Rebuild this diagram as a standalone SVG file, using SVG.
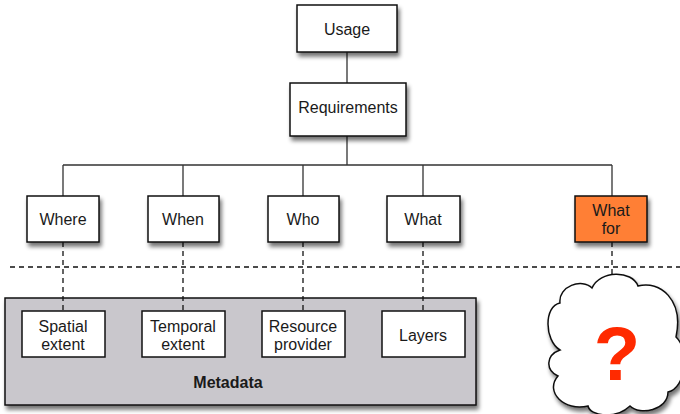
<svg xmlns="http://www.w3.org/2000/svg" width="680" height="414" viewBox="0 0 680 414">
  <defs>
    <filter id="shadow" x="-20%" y="-20%" width="150%" height="160%">
      <feGaussianBlur in="SourceAlpha" stdDeviation="2.2"/>
      <feOffset dx="2" dy="4" result="blur"/>
      <feComponentTransfer><feFuncA type="linear" slope="0.55"/></feComponentTransfer>
      <feMerge><feMergeNode/><feMergeNode in="SourceGraphic"/></feMerge>
    </filter>
  </defs>
  <style>
    .box { fill: #ffffff; stroke: #111111; stroke-width: 1.5; }
    .hot { fill: #ff7f35; }
    .meta { fill: #c9c7cc; stroke: #111111; stroke-width: 1.5; }
    .lbl { font-family: "Liberation Sans", Arial, sans-serif; font-size: 16px; fill: #1a1a1a; text-anchor: middle; }
    .bold { font-weight: bold; }
    .tree { fill: none; stroke: #333333; stroke-width: 1.3; }
    .dash { fill: none; stroke: #111111; stroke-width: 1.3; stroke-dasharray: 5 4; }
  </style>

  <!-- metadata container -->
  <g id="metadata">
    <rect class="meta" x="5" y="298" width="471" height="107" filter="url(#shadow)"/>
    <text class="lbl bold" x="228" y="388">Metadata</text>
  </g>

  <!-- connectors -->
  <g id="connectors">
    <path class="tree" d="M347,52 V83 M347,136 V165 M63,165 H612 M63,165 V196 M183,165 V196 M303,165 V196 M423,165 V196 M612,165 V196"/>
    <path class="dash" d="M10,267 H680"/>
    <path class="dash" d="M63,242 V311 M183,242 V311 M303,242 V311 M423,242 V311 M612,242 V277"/>
  </g>

  <g id="usage">
    <rect class="box" x="297" y="5" width="100" height="47" filter="url(#shadow)"/>
    <text class="lbl" x="347" y="35">Usage</text>
  </g>
  <g id="requirements">
    <rect class="box" x="290" y="83" width="116" height="53" filter="url(#shadow)"/>
    <text class="lbl" x="348" y="113">Requirements</text>
  </g>

  <g id="where">
    <rect class="box" x="27" y="196" width="72" height="46" filter="url(#shadow)"/>
    <text class="lbl" x="63" y="225">Where</text>
  </g>
  <g id="when">
    <rect class="box" x="148" y="196" width="71" height="46" filter="url(#shadow)"/>
    <text class="lbl" x="183" y="225">When</text>
  </g>
  <g id="who">
    <rect class="box" x="268" y="196" width="71" height="46" filter="url(#shadow)"/>
    <text class="lbl" x="303" y="225">Who</text>
  </g>
  <g id="what">
    <rect class="box" x="387" y="196" width="73" height="46" filter="url(#shadow)"/>
    <text class="lbl" x="423" y="225">What</text>
  </g>
  <g id="what-for">
    <rect class="box hot" x="575" y="196" width="72" height="46" filter="url(#shadow)"/>
    <text class="lbl" x="611" y="216">What</text>
    <text class="lbl" x="611" y="234">for</text>
  </g>

  <g id="spatial-extent">
    <rect class="box" x="22" y="311" width="83" height="46"/>
    <text class="lbl" x="63" y="332">Spatial</text>
    <text class="lbl" x="63" y="350">extent</text>
  </g>
  <g id="temporal-extent">
    <rect class="box" x="142" y="311" width="83" height="46"/>
    <text class="lbl" x="183" y="332">Temporal</text>
    <text class="lbl" x="183" y="350">extent</text>
  </g>
  <g id="resource-provider">
    <rect class="box" x="262" y="311" width="83" height="46"/>
    <text class="lbl" x="303" y="332">Resource</text>
    <text class="lbl" x="303" y="350">provider</text>
  </g>
  <g id="layers">
    <rect class="box" x="382" y="311" width="83" height="46"/>
    <text class="lbl" x="423" y="341">Layers</text>
  </g>

  <!-- unknown: cloud with question mark -->
  <g id="unknown">
    <path class="box" filter="url(#shadow)" d="M560,350 C544,340 544,306 560,303 C558,286 582,278 592,288 C600,270 632,270 638,286 C660,280 684,300 676,337 C690,350 686,388 668,392 C668,410 640,416 630,406 C615,420 590,416 588,406 C565,412 544,392 558,376 C545,370 546,355 560,350 Z"/>
    <text x="617" y="380" font-family="Liberation Sans, Arial, sans-serif" font-size="76" font-weight="bold" fill="#ff2a00" text-anchor="middle">?</text>
  </g>
</svg>
